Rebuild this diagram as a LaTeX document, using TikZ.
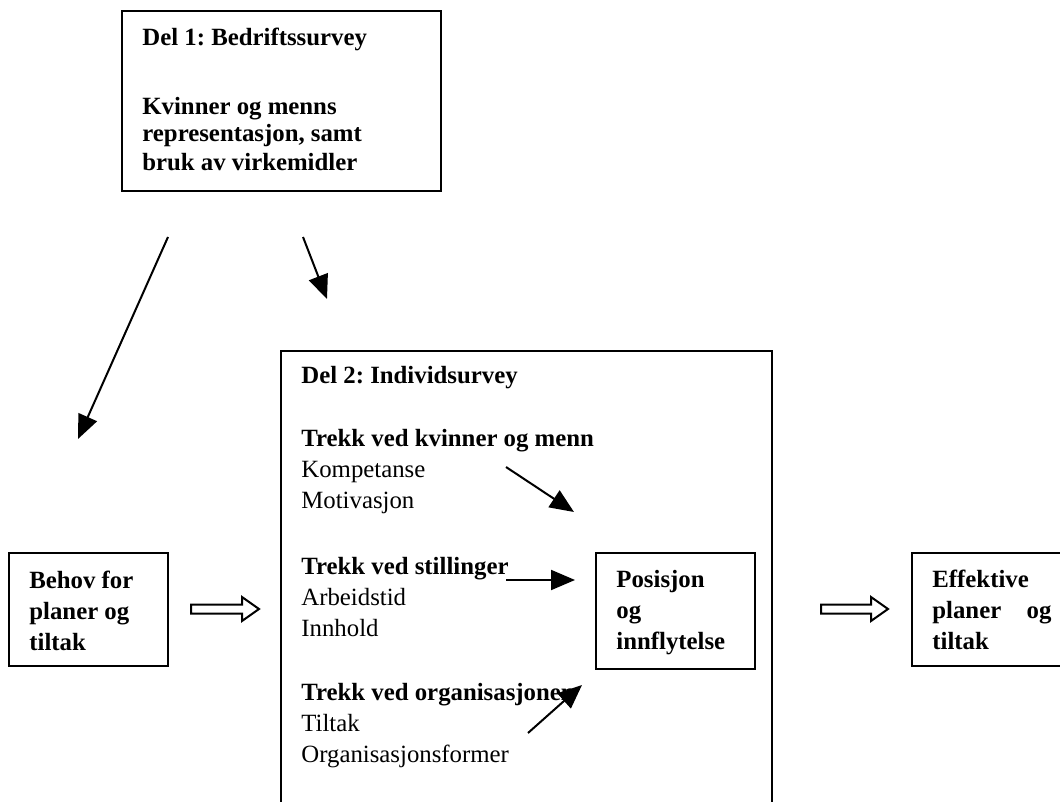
\documentclass[tikz,border=0pt]{standalone}
\usepackage{fontspec}
\setmainfont{Liberation Serif}
\usetikzlibrary{arrows.meta}
\frenchspacing
\begin{document}
\begin{tikzpicture}[x=0.5pt,y=-0.5pt,
  txt/.style={anchor=base west,inner sep=0pt,font=\fontsize{12.4}{15}\selectfont},
  btxt/.style={txt,font=\fontsize{12.4}{15}\selectfont\bfseries},
  boxline/.style={draw,line width=1.2pt},
  conn/.style={draw,line width=1pt,-{Triangle[length=12pt,width=10pt]}},
  hollow/.style={draw,line width=1pt,fill=white,line join=miter}]
\useasboundingbox (0,0) rectangle (1060,802);
% top box
\draw[boxline] (122,11) rectangle (441,191);
\node[btxt] (d1) at (142,46) {Del 1: Bedriftssurvey};
\node[btxt] (d1a) at (142,115) {Kvinner og menns};
\node[btxt] (d1b) at (142,142) {representasjon, samt};
\node[btxt] (d1c) at (142,171) {bruk av virkemidler};
% arrows from top box
\coordinate (a1s) at (168,237); \coordinate (a1e) at (78,439);
\coordinate (a2s) at (303,237); \coordinate (a2e) at (327,299);
\draw[conn] (a1s) -- (a1e);
\draw[conn] (a2s) -- (a2e);
% big box (open at bottom)
\draw[boxline] (281,802) -- (281,351) -- (772,351) -- (772,802);
\node[btxt] (d2) at (301,383) {Del 2: Individsurvey};
\node[btxt] (k1) at (301,446) {Trekk ved kvinner og menn};
\node[txt] (k2) at (301,477) {Kompetanse};
\node[txt] (k3) at (301,508) {Motivasjon};
\node[btxt] (s1) at (301,574) {Trekk ved stillinger};
\node[txt] (s2) at (301,605) {Arbeidstid};
\node[txt] (s3) at (301,636) {Innhold};
\node[btxt] (o1) at (301,700) {Trekk ved organisasjonen};
\node[txt] (o2) at (301,731) {Tiltak};
\node[txt] (o3) at (301,762) {Organisasjonsformer};
% inner arrows
\coordinate (i1s) at (506,467); \coordinate (i1e) at (574,512);
\coordinate (i2s) at (506,580); \coordinate (i2e) at (575,580);
\coordinate (i3s) at (528,733); \coordinate (i3e) at (582,685);
\draw[conn] (i1s) -- (i1e);
\draw[conn] (i2s) -- (i2e);
\draw[conn] (i3s) -- (i3e);
% Posisjon box
\draw[boxline] (596,553) rectangle (755,669);
\node[btxt] (p1) at (616,587) {Posisjon};
\node[btxt] (p2) at (616,618) {og};
\node[btxt] (p3) at (616,649) {innflytelse};
% Behov box
\draw[boxline] (9,553) rectangle (168,666);
\node[btxt] (b1) at (29,588) {Behov for};
\node[btxt] (b2) at (29,619) {planer og};
\node[btxt] (b3) at (29,650) {tiltak};
% Effektive box (open at right)
\draw[boxline] (1060,553) -- (912,553) -- (912,666) -- (1060,666);
\node[btxt] (e1) at (932,587) {Effektive};
\node[btxt] (e2) at (932,618) {\makebox[59.5pt][s]{planer og}};
\node[btxt] (e3) at (932,649) {tiltak};
% hollow arrows
\draw[hollow] (191,604.5) -- (242,604.5) -- (242,597) -- (259,609) -- (242,621) -- (242,613.5) -- (191,613.5) -- cycle;
\draw[hollow] (821,604.5) -- (871,604.5) -- (871,597) -- (888,609) -- (871,621) -- (871,613.5) -- (821,613.5) -- cycle;
\end{tikzpicture}
\end{document}
